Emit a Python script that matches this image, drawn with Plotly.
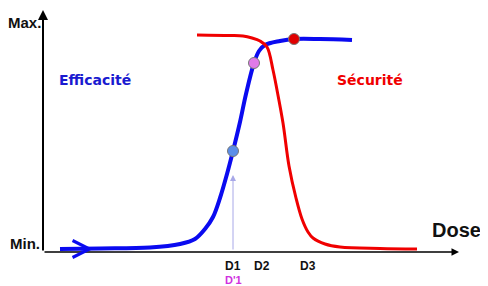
import plotly.graph_objects as go

# Efficacy curve (blue): dose vs response
eff_dose = [17, 57, 107, 137, 152, 162, 170, 177, 184, 190, 197, 203, 211, 216, 222, 237, 251, 277, 309]
eff_resp = [2, 2.5, 3.5, 7, 12, 22, 34, 53, 77, 100, 129, 157, 188, 200, 206, 210, 212, 212, 211]

# Safety curve (red)
saf_dose = [154, 187, 200, 209, 217, 224, 230, 234, 240, 246, 253, 259, 265, 270, 282, 297, 337, 374]
saf_resp = [216, 215.5, 215, 213, 210, 204, 181, 161, 128, 85, 53, 32, 19, 13, 7, 4, 2.5, 2]

# Highlighted points
pt_dose = [190, 211, 251]
pt_resp = [100, 188, 212]
pt_colors = ["#5b8ee8", "#e07ae8", "#e00000"]

# Dose tick labels
tick_dose = [190, 219, 265]
tick_text = ["D1", "D2", "D3"]

X0, X1 = -5, 416
fig = go.Figure()
fig.add_trace(go.Scatter(x=eff_dose, y=eff_resp, mode="lines",
                         line=dict(color="#0a0af0", width=4, shape="spline"),
                         hoverinfo="skip"))
fig.add_trace(go.Scatter(x=saf_dose, y=saf_resp, mode="lines",
                         line=dict(color="#f00000", width=3, shape="spline"),
                         hoverinfo="skip"))
fig.add_trace(go.Scatter(x=pt_dose, y=pt_resp, mode="markers",
                         marker=dict(color=pt_colors, size=11,
                                     line=dict(color="#777777", width=1)),
                         cliponaxis=False, hoverinfo="skip"))

def xp(d):
    return (d - X0) / (X1 - X0)

ann = []
# axes with arrows
ann.append(dict(x=0, y=241, ax=0, ay=-1, xref="x", yref="y", axref="x", ayref="y",
                showarrow=True, arrowhead=2, arrowsize=1, arrowwidth=2,
                arrowcolor="black", text=""))
ann.append(dict(x=416, y=-1, ax=0, ay=-1, xref="x", yref="y", axref="x", ayref="y",
                showarrow=True, arrowhead=2, arrowsize=1, arrowwidth=1.5,
                arrowcolor="black", text=""))
# thin arrow up to D1 point
ann.append(dict(x=190, y=76, ax=190, ay=0, xref="x", yref="y", axref="x", ayref="y",
                showarrow=True, arrowhead=2, arrowsize=1.2, arrowwidth=1,
                arrowcolor="#a8a8e8", text=""))
# chevron on blue curve
ann.append(dict(x=50, y=2, ax=36, ay=2, xref="x", yref="y", axref="x", ayref="y",
                showarrow=True, arrowhead=5, arrowsize=1.1, arrowwidth=3,
                arrowcolor="#0a0af0", text=""))

base = "Liberation Sans, Arial"
ann.append(dict(x=0, y=229, xref="x", yref="y", text="<b>Max.</b>", showarrow=False,
                xanchor="right", yanchor="middle", font=dict(family=base, size=15, color="#111111")))
ann.append(dict(x=-1, y=8, xref="x", yref="y", text="<b>Min.</b>", showarrow=False,
                xanchor="right", yanchor="middle", font=dict(family=base, size=15, color="#111111")))
ann.append(dict(x=0.993, y=0.13, xref="paper", yref="paper", text="<b>Dose</b>", showarrow=False,
                xanchor="center", yanchor="middle", font=dict(family=base, size=20, color="#111111")))
for d, t in zip(tick_dose, tick_text):
    ann.append(dict(x=xp(d), y=-0.022, xref="paper", yref="paper", text="<b>" + t + "</b>",
                    showarrow=False, xanchor="center", yanchor="middle",
                    font=dict(family=base, size=12, color="#111111")))
ann.append(dict(x=xp(190), y=-0.078, xref="paper", yref="paper", text="<b>D'1</b>", showarrow=False,
                xanchor="center", yanchor="middle",
                font=dict(family=base, size=11, color="#d030e0")))
ann.append(dict(x=52, y=171, xref="x", yref="y", text="<b>Efficacité</b>", showarrow=False,
                xanchor="center", yanchor="middle",
                font=dict(family="DejaVu Sans", size=14, color="#1a1ad0")))
ann.append(dict(x=327, y=171, xref="x", yref="y", text="<b>Sécurité</b>", showarrow=False,
                xanchor="center", yanchor="middle",
                font=dict(family="DejaVu Sans", size=14, color="#f00000")))

fig.update_layout(
    width=480, height=278,
    margin=dict(l=30, r=29, t=14, b=25),
    paper_bgcolor="white", plot_bgcolor="white",
    showlegend=False,
    xaxis=dict(range=[X0, X1], visible=False, fixedrange=True),
    yaxis=dict(range=[-10, 229], visible=False, fixedrange=True),
    annotations=ann,
)

fig.write_html("out.html")
